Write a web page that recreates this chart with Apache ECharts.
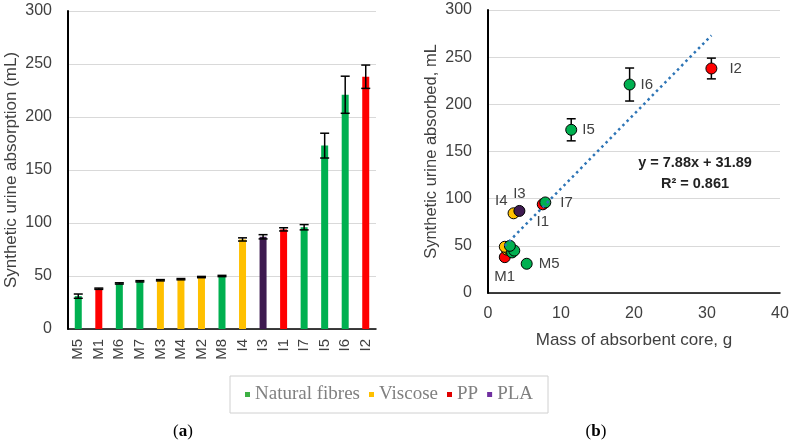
<!DOCTYPE html>
<html>
<head>
<meta charset="utf-8">
<script src="https://cdn.jsdelivr.net/npm/echarts@6/dist/echarts.min.js"></script>
<style>
  html, body { margin: 0; padding: 0; background: #fff; }
  #chart { width: 792px; height: 445px; }
</style>
</head>
<body>
<div id="chart"></div>
<script>
// samples, in the order of the bar chart
var categories = ['M5', 'M1', 'M6', 'M7', 'M3', 'M4', 'M2', 'M8', 'I4', 'I3', 'I1', 'I7', 'I5', 'I6', 'I2'];
var absorption = [31, 38, 43, 45, 46, 47, 49, 50, 84.5, 87, 94, 96, 173, 221, 238];
var absorptionErr = [2, 0.6, 0.6, 0.6, 0.6, 0.6, 0.6, 0.6, 1.5, 2, 1.5, 2.5, 11.7, 17.5, 11];
var coreMass = [5.3, 2.3, 3.3, 3.6, 2.6, 2.8, 2.3, 3.0, 3.5, 4.3, 7.5, 7.85, 11.4, 19.4, 30.6];
var material = ['Natural fibres', 'PP', 'Natural fibres', 'Natural fibres', 'Viscose', 'Viscose', 'Viscose',
  'Natural fibres', 'Viscose', 'PLA', 'PP', 'Natural fibres', 'Natural fibres', 'Natural fibres', 'PP'];
var materialGroups = ['Natural fibres', 'Viscose', 'PP', 'PLA'];
var trendSlope = 7.88;
var trendIntercept = 31.89;
var rSquared = 0.861;

var colors = { 'Natural fibres': '#00B050', 'Viscose': '#FFC000', 'PP': '#FF0000', 'PLA': '#3E1A50' };
var legendColors = { 'Natural fibres': '#3CB043', 'Viscose': '#FFC000', 'PP': '#E00000', 'PLA': '#7030A0' };
// which scatter points carry a name, and where
var labelPos = {
  I5: { position: 'right' }, I6: { position: 'right' }, I2: { position: 'right', distance: 12 },
  I7: { position: 'right', distance: 9 }, I1: { position: 'bottom', distance: 4 },
  I3: { position: 'top', distance: 4 }, I4: { position: 'left', offset: [5, -12] },
  M1: { position: 'bottom', distance: 6 }, M5: { position: 'right', distance: 6 }
};

var tickText = { color: '#404040', fontSize: 16, fontFamily: 'Liberation Sans' };

function errorBar(params, api) {
  var x = api.value(0);
  var top = api.coord([x, api.value(2)]);
  var bot = api.coord([x, api.value(1)]);
  var half = 4.5;
  var st = { stroke: '#000', lineWidth: 1.5 };
  return {
    type: 'group',
    children: [
      { type: 'line', shape: { x1: top[0], y1: top[1], x2: bot[0], y2: bot[1] }, style: st },
      { type: 'line', shape: { x1: top[0] - half, y1: top[1], x2: top[0] + half, y2: top[1] }, style: st },
      { type: 'line', shape: { x1: bot[0] - half, y1: bot[1], x2: bot[0] + half, y2: bot[1] }, style: st }
    ]
  };
}

var chart = echarts.init(document.getElementById('chart'), null, { renderer: 'canvas' });

var barData = absorption.map(function (v, i) {
  return { value: v, itemStyle: { color: colors[material[i]] } };
});
var barErr = absorption.map(function (v, i) {
  return [i, v - absorptionErr[i], v + absorptionErr[i]];
});
var scatterErr = absorption.map(function (v, i) {
  return [coreMass[i], v - absorptionErr[i], v + absorptionErr[i]];
});

var scatterSeries = ['PP', 'Viscose', 'Natural fibres', 'PLA'].map(function (g) {
  var pts = [];
  categories.forEach(function (c, i) {
    if (material[i] !== g) return;
    var p = { name: c, value: [coreMass[i], absorption[i]] };
    if (labelPos[c]) {
      p.label = Object.assign({ show: true, formatter: c, color: '#404040', fontSize: 15, fontFamily: 'Liberation Sans' }, labelPos[c]);
    }
    pts.push(p);
  });
  return {
    name: g,
    type: 'scatter',
    xAxisIndex: 1,
    yAxisIndex: 1,
    symbolSize: 11,
    itemStyle: { color: colors[g], borderColor: '#000', borderWidth: 1, opacity: 1 },
    z: 4,
    data: pts
  };
});

var xLo = Math.min.apply(null, coreMass);
var xHi = Math.max.apply(null, coreMass);

var option = {
  animation: false,
  legend: {
    left: 230,
    top: 376,
    padding: [9, 15],
    borderColor: '#D0D0D0',
    borderWidth: 1,
    itemWidth: 5,
    itemHeight: 5,
    itemGap: 9,
    icon: 'rect',
    textStyle: { color: '#808080', fontSize: 19, fontFamily: 'Liberation Serif' },
    data: materialGroups.map(function (g) {
      return { name: g, itemStyle: { color: legendColors[g], borderWidth: 0 } };
    })
  },
  grid: [
    { left: 68, top: 11, width: 308, height: 318 },
    { left: 488, top: 10, width: 292, height: 283 }
  ],
  xAxis: [
    {
      gridIndex: 0,
      type: 'category',
      data: categories,
      axisLine: { lineStyle: { color: '#000', width: 1.5 } },
      axisTick: { show: false },
      axisLabel: { rotate: 90, margin: 10, interval: 0, color: '#404040', fontSize: 15, fontFamily: 'Liberation Sans' }
    },
    {
      gridIndex: 1,
      type: 'value',
      min: 0, max: 40, interval: 10,
      name: 'Mass of absorbent core, g',
      nameLocation: 'middle',
      nameGap: 39,
      nameTextStyle: { color: '#404040', fontSize: 17, fontFamily: 'Liberation Sans' },
      axisLine: { onZero: false, lineStyle: { color: '#000', width: 1.5 } },
      axisTick: { show: false },
      splitLine: { show: false },
      axisLabel: Object.assign({ margin: 13 }, tickText)
    }
  ],
  yAxis: [
    {
      gridIndex: 0,
      type: 'value',
      min: 0, max: 300, interval: 50,
      name: 'Synthetic urine absorption (mL)',
      nameLocation: 'middle',
      nameGap: 48,
      nameTextStyle: { color: '#404040', fontSize: 17, fontFamily: 'Liberation Sans' },
      axisLine: { show: true, lineStyle: { color: '#000', width: 2 } },
      axisTick: { show: false },
      splitLine: { lineStyle: { color: '#D9D9D9', width: 1 } },
      axisLabel: Object.assign({ margin: 16 }, tickText)
    },
    {
      gridIndex: 1,
      type: 'value',
      min: 0, max: 300, interval: 50,
      name: 'Synthetic urine absorbed, mL',
      nameLocation: 'middle',
      nameGap: 48,
      nameTextStyle: { color: '#404040', fontSize: 16.5, fontFamily: 'Liberation Sans' },
      axisLine: { show: true, lineStyle: { color: '#000', width: 2 } },
      axisTick: { show: false },
      splitLine: { lineStyle: { color: '#D9D9D9', width: 1 } },
      axisLabel: Object.assign({ margin: 16 }, tickText)
    }
  ],
  series: [
    {
      name: 'absorption',
      type: 'bar',
      xAxisIndex: 0,
      yAxisIndex: 0,
      barWidth: 7,
      data: barData
    },
    {
      name: 'absorption error',
      type: 'custom',
      xAxisIndex: 0,
      yAxisIndex: 0,
      renderItem: errorBar,
      encode: { x: 0, y: [1, 2] },
      z: 3,
      data: barErr
    },
    {
      name: 'scatter error',
      type: 'custom',
      xAxisIndex: 1,
      yAxisIndex: 1,
      renderItem: errorBar,
      encode: { x: 0, y: [1, 2] },
      z: 3,
      data: scatterErr
    },
    {
      name: 'trend',
      type: 'line',
      xAxisIndex: 1,
      yAxisIndex: 1,
      symbol: 'none',
      z: 5,
      lineStyle: { color: '#2E75B6', width: 2.5, type: [2.5, 3.5] },
      data: [[xLo, trendSlope * xLo + trendIntercept], [xHi, trendSlope * xHi + trendIntercept]]
    }
  ].concat(scatterSeries),
  graphic: [
    {
      type: 'text', x: 695, y: 163,
      style: {
        text: 'y = ' + trendSlope.toFixed(2) + 'x + ' + trendIntercept.toFixed(2),
        align: 'center', verticalAlign: 'middle',
        fill: '#222', font: 'bold 14.5px Liberation Sans'
      }
    },
    {
      type: 'text', x: 695, y: 184,
      style: {
        text: 'R\u00B2 = ' + rSquared.toFixed(3),
        align: 'center', verticalAlign: 'middle',
        fill: '#222', font: 'bold 14.5px Liberation Sans'
      }
    },
    {
      type: 'text', x: 183, y: 432,
      style: {
        text: '({b|a})', align: 'center', verticalAlign: 'middle',
        fill: '#000', font: '17px Liberation Serif',
        rich: { b: { fontWeight: 'bold', fontSize: 17, fontFamily: 'Liberation Serif' } }
      }
    },
    {
      type: 'text', x: 596, y: 432,
      style: {
        text: '({b|b})', align: 'center', verticalAlign: 'middle',
        fill: '#000', font: '17px Liberation Serif',
        rich: { b: { fontWeight: 'bold', fontSize: 17, fontFamily: 'Liberation Serif' } }
      }
    }
  ]
};

chart.setOption(option);
</script>
</body>
</html>
